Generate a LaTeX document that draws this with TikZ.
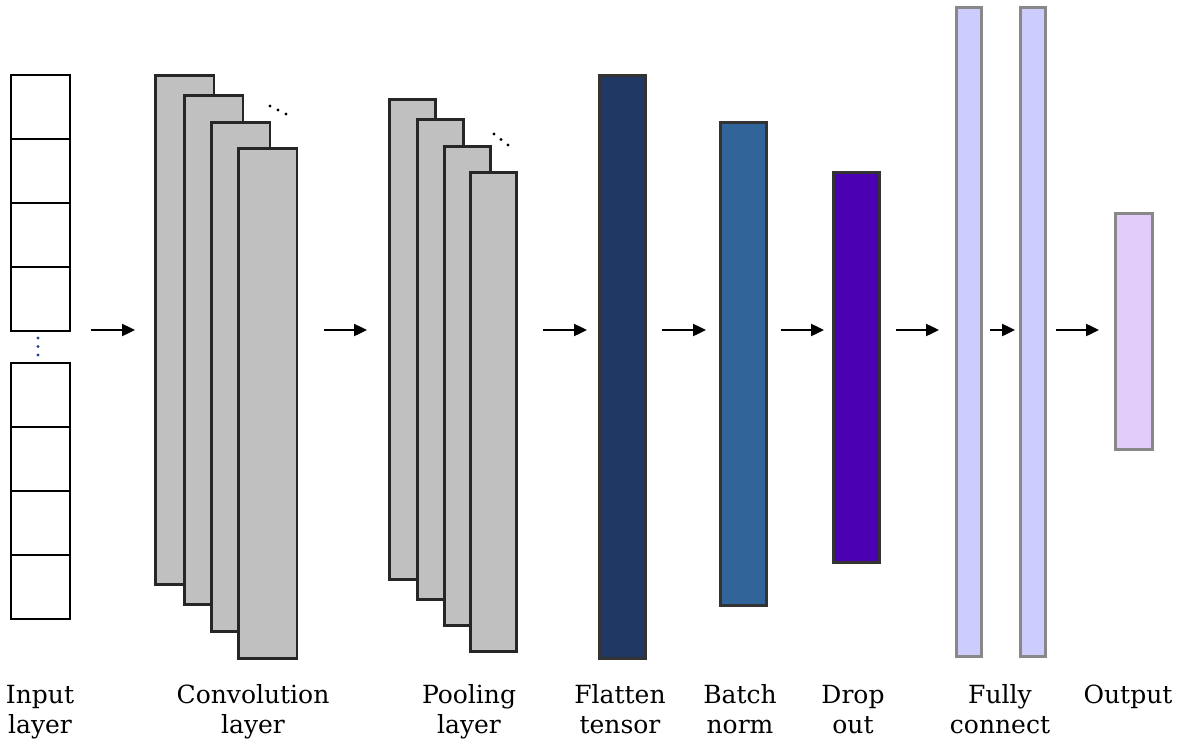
\documentclass[tikz,border=0pt]{standalone}
\usepackage{fontspec}
\usepackage{xcolor}
\usepackage{tikz}
\usetikzlibrary{arrows.meta}
\newfontfamily\labfont{DejaVu Serif}
\definecolor{sheetgray}{HTML}{C0C0C0}
\definecolor{flatfill}{HTML}{1F3864}
\definecolor{bnfill}{HTML}{31659A}
\definecolor{dropfill}{HTML}{4B00B2}
\definecolor{fcfill}{HTML}{CCCCFF}
\definecolor{outfill}{HTML}{E2CCF9}
\definecolor{rim}{HTML}{888888}
\definecolor{dotblue}{HTML}{23408C}
\tikzset{
  cell/.style={draw=black, line width=2.4pt, minimum width=59pt, minimum height=64pt, anchor=north west, inner sep=0pt},
  sheet/.style={draw=black!85, fill=sheetgray, line width=2.8pt, anchor=north west, inner sep=0pt},
  bar/.style={draw=black!80, line width=2.6pt, minimum width=46pt, anchor=north west, inner sep=0pt},
  fcbar/.style={draw=rim, fill=fcfill, line width=2.8pt, minimum width=25pt, anchor=north west, inner sep=0pt},
  flow/.style={line width=2.4pt, -{Triangle[length=13pt,width=12pt]}},
  dot/.style={circle, inner sep=0pt, minimum size=3.2pt},
  lab/.style={font=\labfont\fontsize{25}{30}\selectfont, align=center, anchor=base},
}

\begin{document}
\begin{tikzpicture}[x=1pt, y=-1pt]
  \useasboundingbox (0,0) rectangle (1177,749);
  \coordinate (mid) at (0,330);

  \foreach \k in {0,...,3} {
    \node[cell] (inA\k) at (10,74+64*\k) {};
    \node[cell] (inB\k) at (10,362+64*\k) {};
  }
  \foreach \k in {0,1,2}
    \node[dot, fill=dotblue] (inDot\k) at (38,338+8.5*\k) {};

  \foreach \x/\t/\b [count=\k] in {154/74/583, 183/94/603, 210/121/630, 237/147/657}
    \node[sheet, minimum width=58.5pt, minimum height=\b-\t] (conv\k) at (\x,\t) {};
  \foreach \k in {0,1,2}
    \node[dot, fill=black] (convDot\k) at (270+8*\k,106+4*\k) {};

  \foreach \x/\t/\b [count=\k] in {388/98/578, 416/118/598, 443/145/624, 469/171/650}
    \node[sheet, minimum width=46pt, minimum height=\b-\t] (pool\k) at (\x,\t) {};
  \foreach \k in {0,1,2}
    \node[dot, fill=black] (poolDot\k) at (494+7*\k,134+5.5*\k) {};

  \node[bar, fill=flatfill, minimum height=583pt] (flat) at (598,74) {};
  \node[bar, fill=bnfill, minimum height=483pt] (bn) at (719,121) {};
  \node[bar, fill=dropfill, minimum height=390pt] (drop) at (832,171) {};
  \node[fcbar, minimum height=649pt] (fcA) at (955,6) {};
  \node[fcbar, minimum height=649pt] (fcB) at (1019,6) {};
  \node[fcbar, fill=outfill, minimum width=37pt, minimum height=236pt] (out) at (1114,212) {};

  \draw[flow, shorten <=20pt, shorten >=19pt] (inA3.east |- mid) -- (conv1.west |- mid);
  \draw[flow, shorten <=26pt, shorten >=21pt] (conv4.east |- mid) -- (pool1.west |- mid);
  \draw[flow, shorten <=25pt, shorten >=11pt] (pool4.east |- mid) -- (flat.west |- mid);
  \draw[flow, shorten <=15pt, shorten >=13pt] (flat.east |- mid) -- (bn.west |- mid);
  \draw[flow, shorten <=13pt, shorten >=8pt] (bn.east |- mid) -- (drop.west |- mid);
  \draw[flow, shorten <=15pt, shorten >=16pt] (drop.east |- mid) -- (fcA.west |- mid);
  \draw[flow, shorten <=7pt, shorten >=4pt] (fcA.east |- mid) -- (fcB.west |- mid);
  \draw[flow, shorten <=9pt, shorten >=15pt] (fcB.east |- mid) -- (out.west |- mid);

  \node[lab] (labIn) at (40,733) {Input\\layer};
  \node[lab] (labConv) at (253,733) {Convolution\\layer};
  \node[lab] (labPool) at (469,733) {Pooling\\layer};
  \node[lab] (labFlat) at (620,733) {Flatten\\tensor};
  \node[lab] (labBn) at (740,733) {Batch\\norm};
  \node[lab] (labDrop) at (853,733) {Drop\\out};
  \node[lab] (labFc) at (1000,733) {Fully\\connect};
  \node[lab] (labOut) at (1128,703) {Output};
\end{tikzpicture}
\end{document}
